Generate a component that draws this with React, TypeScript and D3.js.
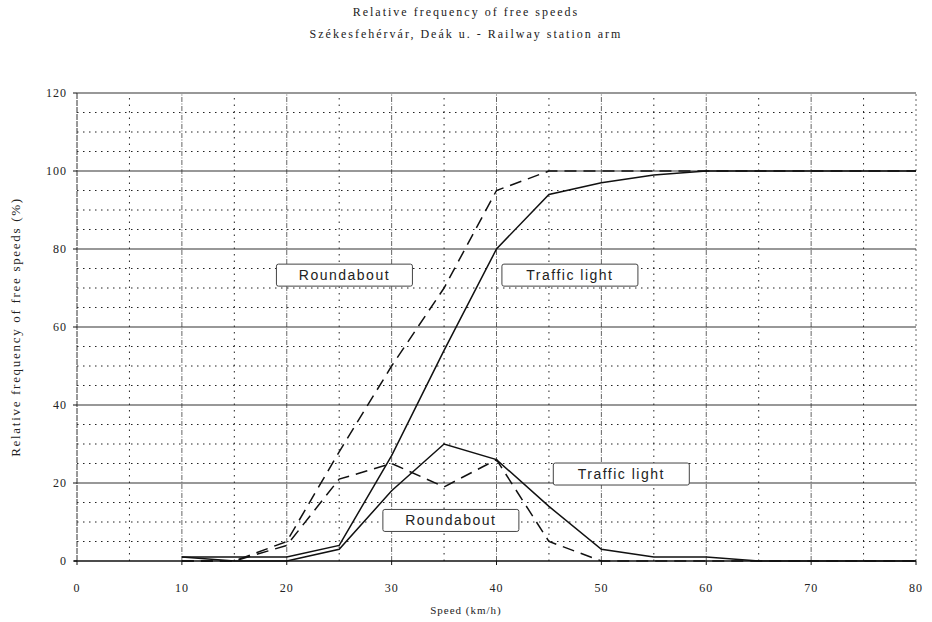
import React from "react";
import * as d3 from "d3";

const speeds = [10, 15, 20, 25, 30, 35, 40, 45, 50, 55, 60, 65, 70, 75, 80];
const tlCumulative = [1, 1, 1, 4, 27, 54, 80, 94, 97, 99, 100, 100, 100, 100, 100];
const raCumulative = [0, 0, 5, 28, 50, 70, 95, 100, 100, 100, 100, 100, 100, 100, 100];
const tlFrequency = [1, 0, 0, 3, 18, 30, 26, 14, 3, 1, 1, 0, 0, 0, 0];
const raFrequency = [0, 0, 4, 21, 25, 19, 26, 5, 0, 0, 0, 0, 0, 0, 0];

const xTicks = [0, 10, 20, 30, 40, 50, 60, 70, 80];
const yTicks = [0, 20, 40, 60, 80, 100, 120];
const xMinor = [5, 15, 25, 35, 45, 55, 65, 75];
const yMinor = [5, 10, 15, 25, 30, 35, 45, 50, 55, 65, 70, 75, 85, 90, 95, 105, 110, 115];

const labelTexts = ["Roundabout", "Traffic light", "Traffic light", "Roundabout"];
const labelX = [25.5, 47.0, 51.9, 35.65];
const labelY = [73.3, 73.3, 22.3, 10.4];

const titleLines = ["Relative frequency of free speeds", "Székesfehérvár, Deák u. - Railway station arm"];
const xTitle = "Speed (km/h)";
const yTitle = "Relative frequency of free speeds (%)";

export default function App() {
  const W = 932, H = 622;
  const x = d3.scaleLinear().domain([0, 80]).range([77, 916]);
  const y = d3.scaleLinear().domain([0, 120]).range([561, 93]);
  const line = d3.line<[number, number]>().x(d => x(d[0])).y(d => y(d[1]));
  const mk = (vals: number[]) => speeds.map((s, i) => [s, vals[i]] as [number, number]);
  const serif = "'Liberation Serif', 'DejaVu Serif', serif";
  const sans = "'Liberation Sans', Arial, sans-serif";

  return (
    <svg width={W} height={H} style={{ position: "absolute", left: 0, top: 0, background: "#fff" }}>
      <rect width={W} height={H} fill="#fff" />
      {yMinor.map(v => (
        <line key={"ym" + v} x1={x(0)} x2={x(80)} y1={y(v)} y2={y(v)} stroke="#222" strokeWidth={1} strokeDasharray="1.5,4.5" />
      ))}
      {xMinor.map(v => (
        <line key={"xm" + v} x1={x(v)} x2={x(v)} y1={y(0)} y2={y(120)} stroke="#222" strokeWidth={1} strokeDasharray="1.5,5" />
      ))}
      {xTicks.filter(v => v > 0).map(v => (
        <line key={"xg" + v} x1={x(v)} x2={x(v)} y1={y(0)} y2={y(120)} stroke="#555" strokeWidth={0.9} strokeDasharray={v === 80 ? "2,3" : "5,1.5,1,1.5"} />
      ))}
      {yTicks.filter(v => v > 0).map(v => (
        <line key={"yg" + v} x1={x(0)} x2={x(80)} y1={y(v)} y2={y(v)} stroke="#333" strokeWidth={1.1} />
      ))}
      <line x1={x(0)} x2={x(0)} y1={y(0)} y2={y(120)} stroke="#333" strokeWidth={1} strokeDasharray="6,1" />
      <line x1={x(0) - 3} x2={x(80)} y1={y(0)} y2={y(0)} stroke="#111" strokeWidth={1.4} />
      {yTicks.map(v => (
        <g key={"yt" + v}>
          <line x1={x(0) - 4} x2={x(0)} y1={y(v)} y2={y(v)} stroke="#111" strokeWidth={1} />
          <text x={x(0) - 10} y={y(v)} dy="0.35em" textAnchor="end" fontFamily={serif} fontSize={12} fill="#222" letterSpacing={1}>{v}</text>
        </g>
      ))}
      {xTicks.map(v => (
        <g key={"xt" + v}>
          <line x1={x(v)} x2={x(v)} y1={y(0)} y2={y(0) + 4} stroke="#111" strokeWidth={1} />
          <text x={x(v)} y={y(0) + 31} textAnchor="middle" fontFamily={serif} fontSize={12} fill="#222" letterSpacing={1}>{v}</text>
        </g>
      ))}
      <path d={line(mk(tlCumulative)) || ""} fill="none" stroke="#111" strokeWidth={1.5} />
      <path d={line(mk(tlFrequency)) || ""} fill="none" stroke="#111" strokeWidth={1.5} />
      <path d={line(mk(raCumulative)) || ""} fill="none" stroke="#111" strokeWidth={1.5} strokeDasharray="12,7" />
      <path d={line(mk(raFrequency)) || ""} fill="none" stroke="#111" strokeWidth={1.5} strokeDasharray="12,7" />
      {labelTexts.map((t, i) => {
        const cx = x(labelX[i]), cy = y(labelY[i]);
        const w = 136, h = 22;
        return (
          <g key={"lb" + i}>
            <rect x={cx - w / 2} y={cy - h / 2} width={w} height={h} rx={2} fill="#fff" stroke="#444" strokeWidth={1} />
            <text x={cx} y={cy} dy="0.36em" textAnchor="middle" fontFamily={sans} fontSize={14} letterSpacing={1.5} fill="#222">{t}</text>
          </g>
        );
      })}
      {titleLines.map((t, i) => (
        <text key={"t" + i} x={466} y={16 + i * 22} textAnchor="middle" fontFamily={serif} fontSize={12} letterSpacing={2} fill="#222">{t}</text>
      ))}
      <text x={466} y={614} textAnchor="middle" fontFamily={serif} fontSize={11} letterSpacing={1} fill="#222">{xTitle}</text>
      <text transform={`translate(20,${(y(0) + y(120)) / 2}) rotate(-90)`} textAnchor="middle" fontFamily={serif} fontSize={13} letterSpacing={1.7} fill="#222">{yTitle}</text>
    </svg>
  );
}
